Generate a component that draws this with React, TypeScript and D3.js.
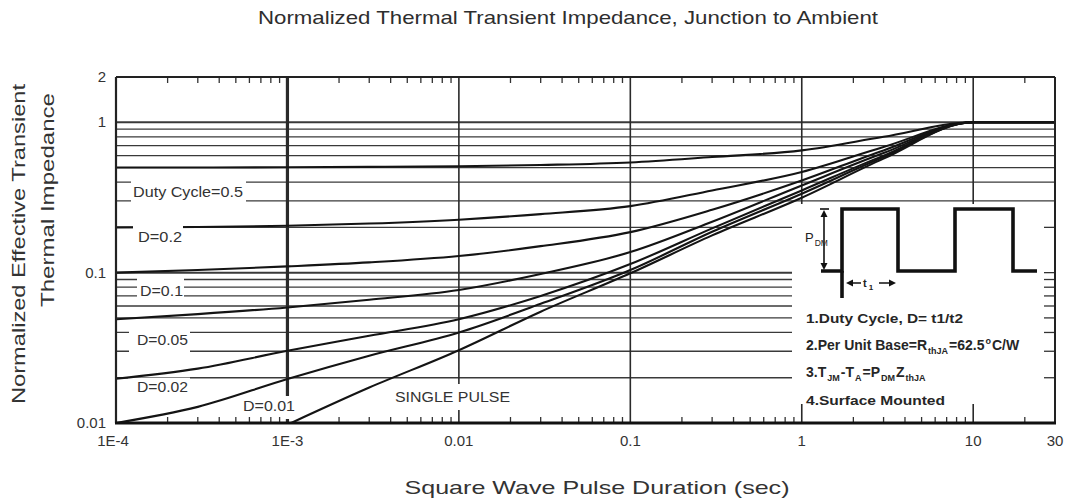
import React from "react";
import * as d3 from "d3";

const title = "Normalized Thermal Transient Impedance, Junction to Ambient";
const xTitle = "Square Wave Pulse Duration (sec)";
const yTitle1 = "Normalized Effective Transient";
const yTitle2 = "Thermal Impedance";

const xTickValues = [1e-4, 1e-3, 1e-2, 0.1, 1, 10, 30];
const xTickLabels = ["1E-4", "1E-3", "0.01", "0.1", "1", "10", "30"];
const yTickValues = [0.01, 0.1, 1, 2];
const yTickLabels = ["0.01", "0.1", "1", "2"];

const times = [1e-4, 3e-4, 1e-3, 3e-3, 1e-2, 3e-2, 0.1, 0.3, 1, 3, 10, 30];
const d050 = [0.5, 0.5, 0.502, 0.505, 0.51, 0.52, 0.54, 0.587, 0.65, 0.8, 1, 1];
const d020 = [0.2, 0.201, 0.205, 0.212, 0.225, 0.245, 0.277, 0.352, 0.467, 0.685, 1, 1];
const d010 = [0.1, 0.104, 0.11, 0.117, 0.129, 0.15, 0.186, 0.262, 0.41, 0.65, 1, 1];
const d005 = [0.049, 0.053, 0.0587, 0.066, 0.0767, 0.098, 0.137, 0.218, 0.38, 0.624, 1, 1];
const d002 = [0.0197, 0.023, 0.0302, 0.038, 0.049, 0.07, 0.114, 0.197, 0.352, 0.6, 1, 1];
const d001 = [0.01, 0.0128, 0.0196, 0.028, 0.04, 0.062, 0.104, 0.187, 0.335, 0.587, 1, 1];
const singleTimes = [1.05e-3, 3e-3, 1e-2, 3e-2, 0.1, 0.3, 1, 3, 10, 30];
const singleValues = [0.01, 0.0172, 0.0305, 0.055, 0.099, 0.177, 0.315, 0.573, 1, 1];

const seriesLabels = ["Duty Cycle=0.5", "D=0.2", "D=0.1", "D=0.05", "D=0.02", "D=0.01", "SINGLE PULSE"];

const W = 1071;
const H = 504;
const L = 116;
const R = 1055;
const T = 77;
const B = 423;
const FONT = "'Liberation Sans', Arial, Helvetica, sans-serif";

export default function App() {
  const x = d3.scaleLog().domain([1e-4, 30]).range([L, R]);
  const y = d3.scaleLog().domain([0.01, 2]).range([B, T]);

  const line = d3
    .line<[number, number]>()
    .x((d) => x(d[0]))
    .y((d) => y(d[1]))
    .curve(d3.curveMonotoneX);

  const series: [number, number][][] = [d050, d020, d010, d005, d002, d001].map((vals) =>
    times.map((t, i) => [t, vals[i]] as [number, number])
  );
  series.push(singleTimes.map((t, i) => [t, singleValues[i]] as [number, number]));

  const hVals: number[] = [];
  [0.01, 0.1].forEach((dec) => {
    for (let k = 1; k <= 9; k++) hVals.push(k * dec);
  });
  hVals.push(1);
  const hGrid = hVals.filter((v) => v > 0.0101);

  const insetX = 792;
  const insetTop = 204;

  const xMinor: number[] = [];
  [1e-4, 1e-3, 1e-2, 0.1, 1, 10].forEach((dec) => {
    for (let k = 2; k <= 9; k++) {
      const v = k * dec;
      if (v < 30) xMinor.push(v);
    }
  });
  const vGrid = [1e-3, 1e-2, 0.1, 1, 10];

  const rightTicks = hVals.filter((v) => v > 0.0101 && v < 0.25);

  const labelPos = [
    { x: 133, y: 197, w: 110, box: [131, 176, 115, 29] },
    { x: 138, y: 242, w: 44, box: [133, 224, 50, 24] },
    { x: 140, y: 296, w: 43, box: [137, 276, 47, 24] },
    { x: 137, y: 345, w: 51, box: [129, 325, 61, 30] },
    { x: 137, y: 392, w: 51, box: [128, 377.6, 62, 20] },
    { x: 243, y: 411, w: 52, box: [240, 396, 58, 23] },
    { x: 395, y: 402, w: 115, box: [392, 384, 121, 26] },
  ];

  const tri = (tx: number, ty: number, dir: "up" | "down" | "left" | "right", len = 7, half = 3.5) => {
    if (dir === "up") return `${tx},${ty} ${tx - half},${ty + len} ${tx + half},${ty + len}`;
    if (dir === "down") return `${tx},${ty} ${tx - half},${ty - len} ${tx + half},${ty - len}`;
    if (dir === "left") return `${tx},${ty} ${tx + len},${ty - half} ${tx + len},${ty + half}`;
    return `${tx},${ty} ${tx - len},${ty - half} ${tx - len},${ty + half}`;
  };

  const pulseTop = 209;
  const pulseBase = 271;
  const wave = `M821,${pulseBase} H842 V${pulseTop} H898 V${pulseBase} H955 V${pulseTop} H1013 V${pulseBase} H1037`;

  return (
    <svg
      width={W}
      height={H}
      viewBox={`0 0 ${W} ${H}`}
      style={{ position: "absolute", left: 0, top: 0, background: "#fff", fontFamily: FONT }}
    >
      <rect x={0} y={0} width={W} height={H} fill="#fff" />

      <text x={568} y={24} textAnchor="middle" fontSize={19} fill="#2e2e2e" textLength={620} lengthAdjust="spacingAndGlyphs">
        {title}
      </text>

      {hGrid.map((v) => {
        const major = Math.abs(Math.log10(v) - Math.round(Math.log10(v))) < 1e-6;
        return (
          <line
            key={"h" + v}
            x1={L}
            x2={v < 0.25 ? insetX : R}
            y1={y(v)}
            y2={y(v)}
            stroke="#3a3a3a"
            strokeWidth={major ? 2 : 1.3}
          />
        );
      })}

      {vGrid.map((v) => (
        <line
          key={"v" + v}
          x1={x(v)}
          x2={x(v)}
          y1={T}
          y2={B}
          stroke="#2a2a2a"
          strokeWidth={v === 1e-3 ? 3.2 : 1.6}
        />
      ))}

      {xMinor.map((v) => (
        <line key={"tt" + v} x1={x(v)} x2={x(v)} y1={T} y2={T + 6} stroke="#333" strokeWidth={1.3} />
      ))}

      {labelPos.map((p, i) =>
        i === 1 ? null : (
          <rect key={"lb" + i} x={p.box[0]} y={p.box[1]} width={p.box[2]} height={p.box[3]} fill="#fff" />
        )
      )}

      <rect x={insetX} y={insetTop} width={R - insetX} height={B - insetTop - 1} fill="#fff" />

      {series.map((s, i) => (
        <path key={"c" + i} d={line(s) || ""} fill="none" stroke="#141414" strokeWidth={2.1} />
      ))}

      <rect x={labelPos[1].box[0]} y={labelPos[1].box[1]} width={labelPos[1].box[2]} height={labelPos[1].box[3]} fill="#fff" />

      {seriesLabels.map((s, i) => (
        <text
          key={"l" + i}
          x={labelPos[i].x}
          y={labelPos[i].y}
          fontSize={14}
          fill="#333"
          textLength={labelPos[i].w}
          lengthAdjust="spacingAndGlyphs"
        >
          {s}
        </text>
      ))}

      {xMinor.map((v) => (
        <line key={"bt" + v} x1={x(v)} x2={x(v)} y1={B} y2={B - 6} stroke="#333" strokeWidth={1.3} />
      ))}
      {[1, 10].map((v) => (
        <line key={"bM" + v} x1={x(v)} x2={x(v)} y1={B} y2={B - 19} stroke="#2a2a2a" strokeWidth={1.6} />
      ))}

      {rightTicks.map((v) => (
        <line key={"rt" + v} x1={R} x2={R - 11} y1={y(v)} y2={y(v)} stroke="#333" strokeWidth={1.3} />
      ))}

      <line x1={L} x2={R} y1={T} y2={T} stroke="#222" strokeWidth={2} />
      <line x1={L} x2={L} y1={T} y2={B} stroke="#222" strokeWidth={2.2} />
      <line x1={R} x2={R} y1={T} y2={B} stroke="#222" strokeWidth={2} />
      <line x1={L - 1} x2={R + 1} y1={B} y2={B} stroke="#111" strokeWidth={3} />

      <path d={wave} fill="none" stroke="#111" strokeWidth={3.6} strokeLinejoin="miter" />
      <line x1={842} x2={842} y1={pulseBase} y2={298} stroke="#111" strokeWidth={3.6} />
      <line x1={820} x2={829} y1={pulseTop} y2={pulseTop} stroke="#111" strokeWidth={1.6} />
      <line x1={824} x2={824} y1={pulseTop + 5} y2={pulseBase - 5} stroke="#111" strokeWidth={1.6} />
      <polygon points={tri(824, pulseTop + 1, "up")} fill="#111" />
      <polygon points={tri(824, pulseBase - 1, "down")} fill="#111" />
      <text x={805} y={242} fontSize={13} fill="#222">
        P
        <tspan fontSize={8.5} dy={4} dx={1}>DM</tspan>
      </text>
      <line x1={848} x2={894} y1={283} y2={283} stroke="#111" strokeWidth={1.6} />
      <polygon points={tri(846, 283, "left")} fill="#111" />
      <polygon points={tri(896, 283, "right")} fill="#111" />
      <rect x={861} y={276} width={18} height={13} fill="#fff" />
      <text x={863} y={287} fontSize={11} fill="#222" fontWeight="bold">
        t
        <tspan fontSize={8} dy={3} dx={2}>1</tspan>
      </text>

      <g fontSize={13} fontWeight="bold" fill="#262626">
        <text x={806} y={323} textLength={157} lengthAdjust="spacingAndGlyphs">1.Duty Cycle, D= t1/t2</text>
        <text x={806} y={350} fontSize={14}>
          2.Per Unit Base=R
          <tspan fontSize={9} dy={4} dx={1}>thJA</tspan>
          <tspan dy={-4} dx={1}>=62.5</tspan>
          <tspan fontSize={9} dy={-6} dx={1}>o</tspan>
          <tspan dy={6} dx={1}>C/W</tspan>
        </text>
        <text x={806} y={377} fontSize={14}>
          3.T
          <tspan fontSize={9} dy={4} dx={1}>JM</tspan>
          <tspan dy={-4} dx={1}>-T</tspan>
          <tspan fontSize={9} dy={4} dx={1}>A</tspan>
          <tspan dy={-4} dx={1}>=P</tspan>
          <tspan fontSize={9} dy={4} dx={1}>DM</tspan>
          <tspan dy={-4} dx={1}>Z</tspan>
          <tspan fontSize={9} dy={4} dx={1}>thJA</tspan>
        </text>
        <text x={806} y={405} textLength={139} lengthAdjust="spacingAndGlyphs">4.Surface Mounted</text>
      </g>

      {yTickValues.map((v, i) => (
        <text key={"yl" + v} x={106} y={y(v) + 5} textAnchor="end" fontSize={15} fill="#333">
          {yTickLabels[i]}
        </text>
      ))}

      {xTickValues.map((v, i) => (
        <text key={"xl" + v} x={x(v) - (i === 0 ? 3 : 0)} y={446} textAnchor="middle" fontSize={15} fill="#333">
          {xTickLabels[i]}
        </text>
      ))}

      <text x={597} y={494} textAnchor="middle" fontSize={19} fill="#333" textLength={385} lengthAdjust="spacingAndGlyphs">
        {xTitle}
      </text>
      <text
        transform="translate(25,244) rotate(-90)"
        textAnchor="middle"
        fontSize={19}
        fill="#333"
        textLength={320}
        lengthAdjust="spacingAndGlyphs"
      >
        {yTitle1}
      </text>
      <text
        transform="translate(54,200) rotate(-90)"
        textAnchor="middle"
        fontSize={19}
        fill="#333"
        textLength={214}
        lengthAdjust="spacingAndGlyphs"
      >
        {yTitle2}
      </text>
    </svg>
  );
}
